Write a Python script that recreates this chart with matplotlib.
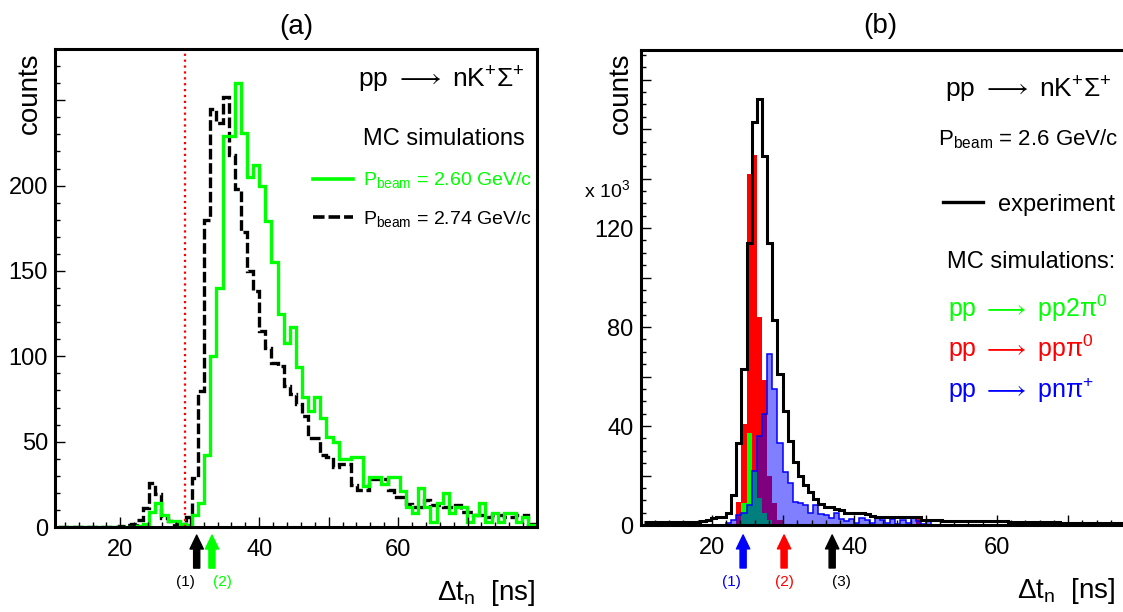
import numpy as np
import matplotlib
matplotlib.use('Agg')
import matplotlib.pyplot as plt
from matplotlib.ticker import MultipleLocator, FuncFormatter
from matplotlib.transforms import blended_transform_factory

plt.rcParams['font.family'] = ['Liberation Sans', 'DejaVu Sans']
plt.rcParams['mathtext.fontset'] = 'custom'
plt.rcParams['mathtext.rm'] = 'Liberation Sans'
plt.rcParams['mathtext.it'] = 'Liberation Sans:italic'
plt.rcParams['mathtext.bf'] = 'Liberation Sans:bold'
plt.rcParams['mathtext.sf'] = 'Liberation Sans'

GREEN = '#00ff00'

# ---- panel (a): MC pp -> nK+Sigma+, bins of 0.88 ns starting at 10.97 ns
a_start, a_width = 10.97, 0.88
green_a = [0, 0, 0, 0, 0, 0, 0, 0, 0, 0, 0, 0, 0,
           0.5, 2, 9, 14, 7, 3.5, 3.5, 2, 1,
           7, 14, 42, 100, 140, 229, 229, 260, 231, 205,
           212, 200, 179, 155, 125, 108, 117, 94, 76, 68,
           76, 64, 53, 50, 40, 40, 41, 41, 24, 29,
           29, 25, 29, 29, 21, 12, 8, 23, 12, 3,
           14, 20, 8, 12, 12, 3, 7, 14, 3, 8,
           3, 8, 8, 3, 6, 1, 0]
black_a = [0, 0, 0, 0, 0, 0, 0, 0, 0, 0,
           0.5, 1, 2, 4, 11, 25.5, 19.6, 5, 3.5, 2,
           2, 6, 28.6, 79.6, 179.6, 245, 236.5, 252, 218, 198,
           172.7, 150, 138, 115, 105, 96, 94.5, 82.5, 78, 72,
           65, 52, 52, 42, 41, 35, 37, 37, 24.5, 21.6,
           21.6, 28, 28, 28, 21.6, 17.6, 17.6, 13.7, 11.8, 11.8,
           15.7, 12.7, 12.7, 11.8, 11.8, 12.7, 8.8, 8.8, 6.9, 6.9,
           5.9, 6.9, 6.9, 5.9, 5.9, 6.9, 6.9, 2, 0]
a_cut = 29.3
a_arrow_x = [31.0, 33.2]
a_label_x = [29.4, 34.7]
a_arrow_lab = ['(1)', '(2)']
a_arrow_col = ['black', GREEN]

# ---- panel (b): experiment + MC backgrounds, bins of 0.72 ns starting at 10.49 ns, counts in 10^3
b_start, b_width = 10.49, 0.72
exp_b = ([1.3] * 11 + [1.6, 2.0, 2.7, 3.4, 3.4, 4.7, 12,
          33, 63, 114, 163, 172, 149, 114, 83, 61, 46,
          34, 25.5, 20, 16, 13.4, 10.5, 8.5, 7.4, 7.4, 6.3,
          6.0, 5, 4.7, 4.7, 4.7, 4.5, 3.6, 3.4, 3.4, 3.4,
          3.4, 3.4, 3.4, 3.4, 3.4, 3.2, 2, 2, 2, 2, 1.8]
         + [1.7] * 12 + [1.3] * 10 + [0.9] * 16)
green_b = [0] * 12 + [0.6] + [0] * 5 + [0.5, 9, 37, 22, 11, 5, 2, 0.5] + [0] * 71
red_b = [0] * 18 + [9.4, 41, 142, 149.5, 84, 58.5, 20, 9, 2] + [0] * 26 + [2.5] + [0] * 43
blue_b = ([0] * 8 + [1] + [0] * 7 +
          [0.7, 2, 4, 5, 8, 22, 36, 45, 69, 55, 33, 21.5, 16.8, 9.4, 8.7, 8, 4.7, 8, 4.5, 4,
           3, 5, 2.5, 1.5, 2.5, 1, 3, 2, 1, 3, 2, 1, 2.5, 0.5, 2, 1, 3, 1.5, 0.5, 2]
          + [0] * 41)
b_arrow_x = [24.4, 30.15, 36.9]
b_label_x = [22.8, 30.15, 38.2]
b_arrow_lab = ['(1)', '(2)', '(3)']
b_arrow_col = ['#0000ff', '#ff0000', 'black']

a_edges = a_start + a_width * np.arange(len(green_a) + 1)
b_edges = b_start + b_width * np.arange(len(exp_b) + 1)

W, H = 1123, 612
fig = plt.figure(figsize=(W / 100, H / 100), dpi=100)
ax1 = fig.add_axes([55 / W, 1 - 527 / H, 482 / W, 478 / H])
ax2 = fig.add_axes([640.5 / W, 1 - 525 / H, 498.75 / W, 475 / H])


def style_axes(ax, ymaj, ymin, ylabels):
    for s in ax.spines.values():
        s.set_linewidth(2.2)
    ax.xaxis.set_major_locator(MultipleLocator(10))
    ax.xaxis.set_minor_locator(MultipleLocator(2))
    ax.xaxis.set_major_formatter(FuncFormatter(lambda v, p: '%d' % v if round(v) in (20, 40, 60) else ''))
    ax.yaxis.set_major_locator(MultipleLocator(ymaj))
    ax.yaxis.set_minor_locator(MultipleLocator(ymin))
    ax.yaxis.set_major_formatter(FuncFormatter(lambda v, p: '%d' % v if round(v) in ylabels else ''))
    ax.tick_params(which='both', direction='in', top=False, right=False, width=1.0, labelsize=17)
    ax.tick_params(which='major', length=7)
    ax.tick_params(which='minor', length=3.5)
    ax.tick_params(axis='x', pad=9)
    ax.tick_params(axis='y', pad=5)


def bottom_arrows(ax, xs, lxs, labs, cols, tip, base, laby):
    trans = blended_transform_factory(ax.transData, ax.transAxes)
    for x, lx, lab, c in zip(xs, lxs, labs, cols):
        ax.annotate('', xy=(x, tip), xytext=(x, base), xycoords=trans, textcoords=trans,
                    annotation_clip=False,
                    arrowprops=dict(arrowstyle='simple,head_length=0.5,head_width=0.48,tail_width=0.22',
                                    color=c, mutation_scale=20, shrinkA=0, shrinkB=0))
        ax.text(lx, laby, lab, transform=trans, ha='center', va='center', fontsize=11, color=c)


# ---------------- panel (a)
ax1.stairs(black_a, a_edges, color='black', lw=2.4, linestyle=(0, (3.2, 1.1)))
ax1.stairs(green_a, a_edges, color=GREEN, lw=2.4)
ax1.axvline(a_cut, color='#ff0000', lw=1.6, linestyle=':')
ax1.set_xlim(10.6, 80)
ax1.set_ylim(0, 280)
style_axes(ax1, 50, 10, (0, 50, 100, 150, 200))
bottom_arrows(ax1, a_arrow_x, a_label_x, a_arrow_lab, a_arrow_col, -0.017, -0.086, -0.115)

ax1.text(0.5, 1.031, '(a)', transform=ax1.transAxes, ha='center', va='baseline', fontsize=20)
ax1.text(-0.052, 0.992, 'counts', transform=ax1.transAxes, rotation=90, ha='center', va='top', fontsize=20)
ax1.text(0.996, -0.153, r'$\Delta$t$_{\rm n}$  [ns]', transform=ax1.transAxes, ha='right', va='baseline', fontsize=20)
ax1.text(0.975, 0.9205, r'pp $\longrightarrow$ nK$^{+}\Sigma^{+}$', transform=ax1.transAxes,
         ha='right', va='baseline', fontsize=19)
ax1.text(0.975, 0.799, 'MC simulations', transform=ax1.transAxes, ha='right', va='baseline', fontsize=17)
ax1.plot([0.535, 0.618], [0.728, 0.728], transform=ax1.transAxes, color=GREEN, lw=2.6)
ax1.text(0.639, 0.7155, r'P$_{\rm beam}$ = 2.60 GeV/c', transform=ax1.transAxes, color=GREEN,
         ha='left', va='baseline', fontsize=14)
ax1.plot([0.535, 0.618], [0.6485, 0.6485], transform=ax1.transAxes, color='black', lw=2.6,
         linestyle=(0, (3.2, 1.1)))
ax1.text(0.639, 0.634, r'P$_{\rm beam}$ = 2.74 GeV/c', transform=ax1.transAxes, color='black',
         ha='left', va='baseline', fontsize=14)

# ---------------- panel (b)
ax2.stairs(red_b, b_edges, fill=True, facecolor='#ff0000', edgecolor='none')
ax2.stairs(green_b, b_edges, fill=True, facecolor=GREEN, edgecolor='none')
ax2.stairs(blue_b, b_edges, fill=True, facecolor=(0, 0, 1, 0.5), edgecolor='none')
ax2.stairs(blue_b, b_edges, color='#0000ff', lw=1.1)
ax2.stairs(exp_b, b_edges, color='black', lw=2.2, baseline=None)
ax2.set_xlim(10, 80)
ax2.set_ylim(0, 192)
style_axes(ax2, 20, 5, (0, 40, 80, 120))
bottom_arrows(ax2, b_arrow_x, b_label_x, b_arrow_lab, b_arrow_col, -0.021, -0.0905, -0.12)

ax2.text(0.48, 1.036, '(b)', transform=ax2.transAxes, ha='center', va='baseline', fontsize=20)
ax2.text(-0.039, 0.994, 'counts', transform=ax2.transAxes, rotation=90, ha='center', va='top', fontsize=20)
ax2.text(-0.021, 0.69, r'x 10$^{3}$', transform=ax2.transAxes, ha='right', va='baseline', fontsize=14)
ax2.text(0.951, -0.153, r'$\Delta$t$_{\rm n}$  [ns]', transform=ax2.transAxes, ha='right', va='baseline', fontsize=20)
ax2.text(0.6105, 0.901, r'pp $\longrightarrow$ nK$^{+}\Sigma^{+}$', transform=ax2.transAxes,
         ha='left', va='baseline', fontsize=19)
ax2.text(0.5965, 0.80, r'P$_{\rm beam}$ = 2.6 GeV/c', transform=ax2.transAxes,
         ha='left', va='baseline', fontsize=16)
ax2.plot([0.6065, 0.6867], [0.68, 0.68], transform=ax2.transAxes, color='black', lw=2.4)
ax2.text(0.7168, 0.66, 'experiment', transform=ax2.transAxes, ha='left', va='baseline', fontsize=17)
ax2.text(0.614, 0.541, 'MC simulations:', transform=ax2.transAxes, ha='left', va='baseline', fontsize=17)
ax2.text(0.616, 0.4385, r'pp $\longrightarrow$ pp2$\mathrm{\pi}^{0}$', transform=ax2.transAxes,
         color=GREEN, ha='left', va='baseline', fontsize=18)
ax2.text(0.616, 0.354, r'pp $\longrightarrow$ pp$\mathrm{\pi}^{0}$', transform=ax2.transAxes,
         color='#ff0000', ha='left', va='baseline', fontsize=18)
ax2.text(0.616, 0.267, r'pp $\longrightarrow$ pn$\mathrm{\pi}^{+}$', transform=ax2.transAxes,
         color='#0000ff', ha='left', va='baseline', fontsize=18)

fig.savefig('out.png', dpi=100)
